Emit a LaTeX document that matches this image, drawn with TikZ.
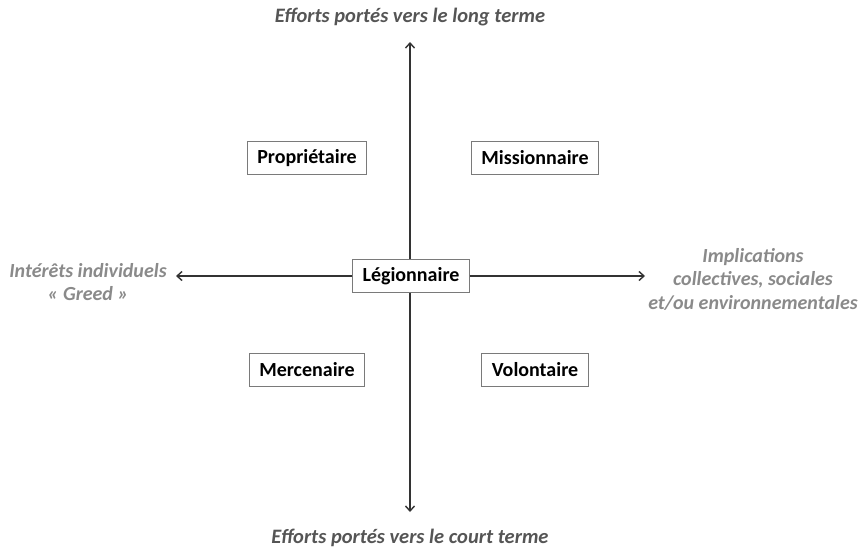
\documentclass[tikz,border=0pt]{standalone}
\usepackage{fontspec}
\setmainfont{Carlito}
\usetikzlibrary{arrows.meta}
\definecolor{titlegray}{HTML}{555555}
\definecolor{sidegray}{HTML}{8A8A8A}
\definecolor{boxgray}{HTML}{7A7A7A}
\definecolor{axisgray}{HTML}{333333}
\tikzset{
  catbox/.style={draw=boxgray, line width=0.9pt, fill=white, font=\fontsize{20}{22}\selectfont\bfseries, inner xsep=10pt, inner ysep=0pt, minimum height=33pt, text=black},
  axistitle/.style={font=\fontsize{20.5}{22}\selectfont\bfseries\itshape, text=titlegray},
  sidelabel/.style={font=\fontsize{20}{23.5}\selectfont\bfseries\itshape, text=sidegray, align=center},
  axisline/.style={draw=axisgray, line width=1.4pt, -{Straight Barb[length=5pt,width=9pt,line width=1.4pt]}}
}
\begin{document}
\begin{tikzpicture}[x=1pt,y=-1pt]
\useasboundingbox (0,0) rectangle (866,550);
\node[axistitle] (top) at (410,17) {Efforts portés vers le long terme};
\node[axistitle] (bot) at (410,538) {Efforts portés vers le court terme};
\node[sidelabel] (left) at (88,282) {Intérêts individuels\\« Greed »};
\node[sidelabel] (right) at (753,279) {Implications\\collectives, sociales\\et/ou environnementales};
\coordinate (tt) at (410,42);
\coordinate (bt) at (410,512);
\coordinate (lt) at (176,276);
\coordinate (rt) at (645,276);
\node[catbox] (leg) at (411,276) {Légionnaire};
\draw[axisline] (leg.north -| tt) -- (tt);
\draw[axisline] (leg.south -| bt) -- (bt);
\draw[axisline] (leg.west) -- (lt);
\draw[axisline] (leg.east) -- (rt);
\node[catbox] (prop) at (307,158) {Propriétaire};
\node[catbox] (miss) at (535,158) {Missionnaire};
\node[catbox] (merc) at (307,370) {Mercenaire};
\node[catbox] (vol) at (535,370) {Volontaire};
\end{tikzpicture}
\end{document}
